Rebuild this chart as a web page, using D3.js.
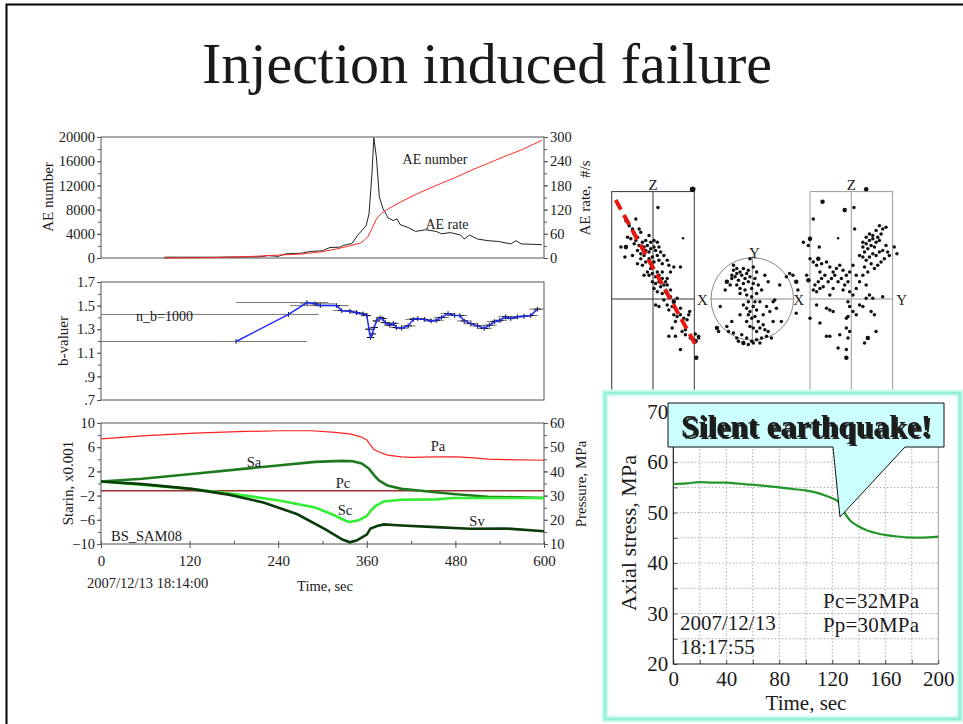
<!DOCTYPE html>
<html><head><meta charset="utf-8">
<script src="https://cdn.jsdelivr.net/npm/d3@7"></script>
<style>
html,body{margin:0;padding:0;background:#fff;}
svg{display:block;}
text{font-family:"Liberation Serif","Times New Roman",serif;fill:#1a1a1a;}
</style></head><body>
<svg id="chart" width="963" height="724"></svg>
<script>
// ---------- time-series data (time in seconds from 2007/12/13 18:14:00) ----------
const timeTicks = [0, 120, 240, 360, 480, 600];
const aeNumberTicks = [0, 4000, 8000, 12000, 16000, 20000];
const aeRateTicks = [0, 60, 120, 180, 240, 300];
const bTicks = [0.7, 0.9, 1.1, 1.3, 1.5, 1.7];
const bTickLabels = [".7", ".9", "1.1", "1.3", "1.5", "1.7"];
const strainTicks = [-10, -6, -2, 2, 6, 10];
const pressureTicks = [10, 20, 30, 40, 50, 60];

// cumulative AE number [t, count]
const aeNumber = [[85,0],[150,60],[207,276],[244,497],[272,663],[300,1050],[319,1492],[338,2044],[352,2486],
  [361,3425],[368,5083],[373,6464],[380,7403],[389,8122],[408,9392],[431,10773],[454,11989],[478,13204],
  [501,14475],[525,15691],[548,16851],[571,17956],[597,19448]];
// AE rate [t, events/s]
const aeRate = [[86,2],[151,2],[216,3],[226,6],[240,4],[249,10],[272,12],[282,16],[300,18],[310,26],[324,27],
  [328,31],[340,36],[347,55],[359,80],[363,109],[367,209],[369.5,298],[373,250],[377,151],[382,122],[389,99],
  [396,93],[401,97],[405,83],[417,75],[426,66],[440,70],[454,66],[461,60],[473,63],[487,57],[492,47],[499,57],
  [510,47],[524,43],[538,41],[555,35],[562,43],[569,35],[597,33]];

// b-value estimates: [t, b, window start, window end]
const bValues = [[183,1.196,0,279],[254,1.425,0,295],[279,1.526,183,308],[290,1.515,270,318],[297,1.50,256,335],
  [319,1.50,300,335],[326,1.458,314,340],[337,1.452,326,348],[346,1.44,336,355],[355,1.43,346,362],
  [360,1.416,352,366],[363,1.30,358,368],[365,1.23,361,369],[367.5,1.26,363,371],[370,1.314,366,374],
  [373,1.37,368,378],[378,1.397,372,384],[381,1.39,375,388],[385,1.356,378,392],[391,1.334,383,398],
  [396,1.35,389,404],[400,1.314,392,408],[407,1.309,398,416],[416,1.328,406,426],[423,1.383,412,432],
  [429,1.39,418,440],[438,1.383,428,448],[447,1.37,437,457],[454,1.375,444,464],[461,1.40,451,471],
  [470,1.433,460,480],[479,1.416,469,489],[486,1.416,476,496],[492,1.37,482,502],[501,1.347,491,511],
  [510,1.328,500,520],[519,1.306,509,529],[526,1.334,516,536],[533,1.364,523,543],[540,1.375,530,550],
  [548,1.405,538,558],[555,1.39,545,565],[564,1.405,554,574],[573,1.41,563,583],[582,1.416,572,592],
  [591,1.47,580,600]];

// axial pressure Pa [t, MPa]
const pa = [[0,53.4],[56,54.7],[126,55.8],[196,56.5],[243,56.8],[285,56.8],[313,56.2],[337,55.5],[351,54.4],
  [360,53.0],[365,50.9],[369.5,49.1],[376.5,48.0],[388,46.7],[407,46.0],[421,45.8],[454,46.0],[482,46.0],
  [505,45.6],[524,45.1],[547,44.9],[600,44.6]];
const pc = 32; // confining pressure, MPa
// strains [t, x0.001]
const sa = [[0,0.34],[56,0.78],[126,1.62],[196,2.46],[243,3.02],[290,3.58],[327,3.74],[341,3.69],[353,3.30],
  [363,2.46],[370,1.34],[376.5,0.5],[388,-0.34],[407,-0.89],[430,-1.17],[477,-1.73],[524,-2.18],[600,-2.40]];
const sc = [[0,0.34],[122,-0.89],[196,-2.0],[243,-2.85],[290,-3.97],[313,-5.08],[332,-6.2],[337,-6.37],
  [349,-6.09],[360,-5.36],[365,-4.53],[372,-3.69],[383,-2.96],[407,-2.68],[454,-2.63],[477,-2.40],[524,-2.40],[600,-2.40]];
const sv = [[0,0.34],[56,-0.1],[122,-0.89],[173,-1.84],[220,-3.13],[266,-5.08],[304,-7.6],[327,-9.27],
  [337,-9.72],[346,-9.44],[360,-8.44],[365,-7.43],[374,-7.04],[383,-6.76],[407,-6.93],[454,-7.21],
  [500,-7.49],[547,-7.43],[600,-7.88]];

// ---------- hypocentre projections (mm from sample centre; optional 3rd value = size factor) ----------
const eventsXZ = [[-16.4,47.4],[-14.4,44.4],[-12.4,42.4],[-11.4,39.4],[-9.4,37.4],[-7.4,40.4],[-8.4,42.4],[-10.4,35.4],
  [-13.4,36.4],[-15.4,37.4],[-16.4,31.4,1.3],[-11.4,33.4],[-8.4,32.4],[-6.4,34.4],[-5.4,31.4],[-3.4,32.4],[-4.4,29.4],
  [-2.4,28.4],[-1.4,30.4],[0.6,31.4],[1.6,29.4],[2.6,26.4],[-5.4,26.4],[-7.4,24.4],[-9.4,21.4],[-6.4,20.4],[-4.4,22.4],
  [-2.4,24.4],[-0.4,25.4],[0.6,22.4],[3.6,23.4],[5.6,21.4],[-1.4,18.4],[-3.4,16.4],[-5.4,14.4],[-2.4,14.4],[-0.4,15.4],
  [1.6,13.4],[2.6,16.4],[5.6,16.4],[-0.4,10.4],[1.6,9.4],[3.6,10.4],[4.6,7.4],[6.6,8.4],[8.6,12.4],[7.6,4.4],[10.6,5.4],
  [10.6,1.4],[12.6,-1.6,1.3],[11.6,-4.6],[9.6,-6.6],[12.6,-9.6],[14.6,-10.6],[16.6,-9.6],[18.6,-11.6],[20.6,-12.6],
  [21.6,-9.6],[13.6,-13.6],[11.6,-17.6],[17.6,-19.6],[19.6,-21.6],[22.6,-23.6],[25.6,-21.2],[27.6,-22.6],[25.6,-25.6,1.4],
  [27.6,-23.6],[16.6,-30.6],[26.2,-35.6,1.3],[12.6,19.4],[16.6,19.4],[18.2,36.8,0.7],[3,55.4],[1.6,-3.6],[3.6,-4.6],
  [8.6,-3.6],[6.6,-0.6],[14.6,0.4],[16.6,-5.6],[19.6,-18.6],[9.6,-22.6],[13.6,-22.6],[22.2,-7.6],[-10.4,48.4],
  [-19.4,31.4],[-17,25.4],[-12.4,26.4],[-9.4,29.4],[-7.4,27.4],[-4.4,35.4],[-2.4,38.4],[-1.4,34.4],[0.6,35.4],
  [2.6,34.4],[3.6,31.4],[4.6,28.4],[6.6,26.4],[8.6,23.4],[9.6,20.4],[10.6,16.4],[3.6,14.4],[5.6,12.4],[7.6,10.4],
  [0.6,6.4],[2.6,4.4],[5.6,3.4],[8.6,8.4],[24,66.4,1.6]];
const eventsXY = [[-11.4,20.4],[-9.4,18.4],[-7.4,16.4],[-12.4,14.4],[-10.4,13.4],[-8.4,11.4],[-6.4,14.4],[-4.4,12.4],
  [-3.4,15.4],[-5.4,18.4],[-2.4,17.4],[-15.4,10.4,1.3],[-13.4,8.4],[-16.4,5.4],[-9.4,8.4],[-7.4,6.4],[-5.4,9.4],
  [-2.4,10.4],[-0.4,6.4],[1.6,12.4],[2.6,16.4],[0.6,19.4],[3.6,8.4],[5.6,5.4],[-3.4,2.4],[-7.4,3.4],[-1.4,24.4],
  [7.6,14.4],[9.6,10.4],[2.6,3.4],[-5.4,-3.6],[-3.4,-5.6],[-1.4,-7.6],[0.6,-4.6],[2.6,-6.6],[-2.4,-9.6],[-0.4,-11.6],
  [1.6,-10.6],[3.6,-13.6],[-3.4,-13.6],[-1.4,-16.6],[0.6,-17.6],[2.6,-19.6],[4.6,-17.6],[6.6,-15.6],[7.6,-18.6],
  [9.6,-19.6],[11.6,-23.6],[8.6,-22.6],[5.6,-23.6],[2.6,-24.6],[-0.4,-25.6],[-3.4,-23.6],[-6.4,-21.6],[-9.4,-23.6],
  [-8.4,-25.6],[-5.4,-26.6,1.3],[-2.4,-27.6],[0.6,-26.6],[4.6,-26.6],[-11.4,-20.6],[-14.4,-19.6],[-21.4,-17.6,1.3],
  [-20.4,-19.6],[-19.4,-4.6],[12.6,-1.6],[13.6,-0.6],[10.6,-7.6],[14.6,-5.6],[16.6,8.4],[22.6,15.4],[20.6,13.4],
  [24.6,14.4],[26.6,10.4,1.3],[27.6,5.4],[26.6,-8.6],[6.6,-9.6],[-7.4,-9.6],[-12.4,-13.6],[-15.4,-16.6],[4.6,-1.6],
  [8.6,-4.6],[1.6,-1.6],[12.6,-13.6],[17.6,-13.6],[-11.4,17.4],[-9.4,15.4],[-12.4,12.4],[-1.4,13.4],[0.6,9.4],
  [-4.4,5.4],[-0.4,1.4],[-2.4,-1.6]];
const eventsYZ = [[7,34.4],[9,33.4],[11,35.4],[13,36.4],[12,32.4],[14,31.4],[10,30.4],[8,28.4],[15,34.4],[17,35.4],
  [16,37.4],[18,39.4],[19,42.4],[21,43.4],[17,44.4],[15,41.4],[13,38.4],[11,39.4],[9,37.4],[7,31.4],[5,26.4],[7,25.4],
  [9,23.4],[11,25.4],[13,27.4],[15,26.4],[17,28.4],[19,29.4],[21,32.4],[22,28.4],[23,26.4],[20,24.4],[18,22.4],
  [16,20.4],[14,18.4],[12,21.4],[10,16.4],[8,19.4],[26,31.4],[27.6,27.4],[2,42.4],[1.6,55.4],[-4,53.8,1.3],[-8,36.8,0.7],
  [-23,48.4],[-17.4,58.8,1.3],[-25,24.4],[-23,22.4],[-21,20.4],[-20,24.4,1.3],[-18,21.4],[-15,22.4],[-13,19.4],
  [-11,16.4],[-9,18.4],[-7,20.4],[-5,17.4],[-3,14.4],[-1,16.4],[1,20.4],[3,14.4],[-2,10.4],[-4,8.4],[-6,12.4],
  [-8,10.4],[-10,14.4],[-12,12.4],[-14,10.4],[-16,14.4],[-18,12.4],[-20,10.4],[-22,8.4],[-23,5.4],[-21,4.4],
  [-19,6.4],[-17,7.4],[-11,6.4],[-5,5.4],[-1,4.4],[-13,2.4],[1,2.4],[3,6.4],[5,10.4],[7,14.4],[9,8.4],[11,2.4],
  [-19,16.4],[-26,11.4,1.3],[-27,14.4],[-29,34.4],[-25,36.4,1.3],[-26,32.4],[-19.4,31.4],[-21,-3.6],[-15,-5.6],
  [-13,-6.6],[-11,-7.6],[-2,-1.6],[-1,-4.6],[-2,-10.6],[-3,-11.6],[1,-7.6],[5,-3.6],[7,-4.6],[9,0.4],[13,0.4],
  [19,1.4],[12,-7.6],[14,-9.6],[-3,-17.6],[-1,-19.6],[-2,-23.6],[-7,-21.6],[-19,-14.6],[-15,-22.6],[-13,-22.6],
  [-25,-11.6],[-8,-29.6],[-3,-30.6],[-3,-35.6,1.3],[10,-23.6,1.3],[8,-26.6],[15,-19.6],[3,-9.6],[9,66.4,1.3]];
const faultTrace = [[-22.6, 59.9], [26.9, -29.8]];

// ---------- axial stress of the silent event [t, MPa], 2007/12/13 18:17:55 ----------
const insetTimeTicks = [0, 40, 80, 120, 160, 200];
const insetStressTicks = [20, 30, 40, 50, 60, 70];
const axialStress = [[0,55.67],[10,55.8],[20,56.06],[30,55.93],[40,55.93],[50,55.73],[60,55.53],[70,55.27],
  [80,55.0],[90,54.68],[100.6,54.35],[108,53.95],[115.7,53.3],[120.8,52.76],[124.5,52.17],[127,51.3],
  [129.6,49.85],[133.3,48.5],[138.4,47.5],[146,46.5],[156,45.76],[166,45.36],[176,45.1],[186,45.03],[200,45.23]];

// ====================================================================
const FONT = '"Liberation Serif","Times New Roman",serif';
const svg = d3.select("#chart");

const defs = svg.append("defs");
const shadow = defs.append("filter").attr("id", "textShadow").attr("x", "-5%").attr("y", "-20%")
  .attr("width", "115%").attr("height", "150%");
shadow.append("feDropShadow").attr("dx", 2).attr("dy", 2).attr("stdDeviation", 0.4)
  .attr("flood-color", "#222").attr("flood-opacity", 1);

// slide border and title
svg.append("path").attr("d", "M6.5,724V4.5H963").attr("fill", "none").attr("stroke", "#000").attr("stroke-width", 2);
svg.append("text").attr("x", 487).attr("y", 83).attr("text-anchor", "middle")
  .attr("font-size", 58).attr("fill", "#000").text("Injection induced failure");

const L = 101, R = 544;
const x = d3.scaleLinear().domain([0, 600]).range([L, R]);

function styleAxis(g, size) {
  g.select(".domain").remove();
  g.selectAll(".tick line").attr("stroke", "#555");
  g.selectAll(".tick text").attr("font-family", FONT).attr("font-size", size).attr("fill", "#222");
}
function addAxis(axisFn, scale, tx, ty, major, minor, fmt, size, len, minorLen) {
  if (minor) {
    const gm = svg.append("g").attr("transform", `translate(${tx},${ty})`)
      .call(axisFn(scale).tickValues(minor).tickSize(minorLen).tickFormat(""));
    styleAxis(gm, size);
  }
  const g = svg.append("g").attr("transform", `translate(${tx},${ty})`)
    .call(axisFn(scale).tickValues(major).tickSize(len).tickPadding(2).tickFormat(fmt));
  styleAxis(g, size);
  return g;
}
function frame(top, bottom) {
  svg.append("rect").attr("x", L).attr("y", top).attr("width", R - L).attr("height", bottom - top)
    .attr("fill", "none").attr("stroke", "#555").attr("stroke-width", 1);
}
function vtext(cx, cy, str, size) {
  svg.append("text").attr("transform", `translate(${cx},${cy}) rotate(-90)`)
    .attr("text-anchor", "middle").attr("font-size", size).style("white-space", "pre").text(str);
}
function label(px, py, str, size, anchor) {
  return svg.append("text").attr("x", px).attr("y", py).attr("text-anchor", anchor || "middle")
    .attr("font-size", size).text(str);
}
const between = (arr, step) => d3.range(arr[0], arr[arr.length - 1] + step / 2, step);

// ---------- panel 1: AE number and AE rate ----------
const T1 = 137, B1 = 258;
const yAE = d3.scaleLinear().domain([0, 20000]).range([B1, T1]);
const yRate = d3.scaleLinear().domain([0, 300]).range([B1, T1]);
frame(T1, B1);
addAxis(d3.axisLeft, yAE, L, 0, aeNumberTicks, between(aeNumberTicks, 2000), d3.format("d"), 14.5, 4, 3);
addAxis(d3.axisRight, yRate, R, 0, aeRateTicks, between(aeRateTicks, 30), d3.format("d"), 14.5, 4, 3);
vtext(53, 197, "AE number", 15);
vtext(590, 198, "AE rate,  #/s", 15);
const lineAE = d3.line().x(d => x(d[0])).y(d => yAE(d[1]));
const lineRate = d3.line().x(d => x(d[0])).y(d => yRate(d[1]));
svg.append("path").attr("d", lineRate(aeRate)).attr("fill", "none").attr("stroke", "#222").attr("stroke-width", 1);
svg.append("path").attr("d", lineAE(aeNumber)).attr("fill", "none").attr("stroke", "#ff2a2a").attr("stroke-width", 1);
label(435, 164, "AE number", 14);
label(447, 229, "AE rate", 14);

// ---------- panel 2: b-value ----------
const T2 = 282, B2 = 400;
const yB = d3.scaleLinear().domain([0.7, 1.7]).range([B2, T2]);
frame(T2, B2);
addAxis(d3.axisLeft, yB, L, 0, bTicks, between(bTicks, 0.1), (d, i) => bTickLabels[i], 14.5, 4, 3);
vtext(68, 341, "b-valuer", 15);
const gb = svg.append("g");
gb.selectAll("line.win").data(bValues).join("line")
  .attr("x1", d => x(d[2])).attr("x2", d => x(d[3]))
  .attr("y1", d => yB(d[1])).attr("y2", d => yB(d[1]))
  .attr("stroke", "#777").attr("stroke-width", 1);
gb.selectAll("line.err").data(bValues).join("line")
  .attr("x1", d => x(d[0])).attr("x2", d => x(d[0]))
  .attr("y1", d => yB(d[1] + 0.02)).attr("y2", d => yB(d[1] - 0.02))
  .attr("stroke", "#111").attr("stroke-width", 1);
gb.selectAll("line.mid").data(bValues.slice(3)).join("line")
  .attr("x1", d => x(d[0] - 5)).attr("x2", d => x(d[0] + 5))
  .attr("y1", d => yB(d[1])).attr("y2", d => yB(d[1]))
  .attr("stroke", "#111").attr("stroke-width", 1);
const lineB = d3.line().x(d => x(d[0])).y(d => yB(d[1]));
gb.append("path").attr("d", lineB(bValues)).attr("fill", "none").attr("stroke", "#1f2bff").attr("stroke-width", 1.5);
label(136, 321, "n_b=1000", 14, "start");

// ---------- panel 3: strains and pressures ----------
const T3 = 423, B3 = 544;
const yS = d3.scaleLinear().domain([-10, 10]).range([B3, T3]);
const yP = d3.scaleLinear().domain([10, 60]).range([B3, T3]);
frame(T3, B3);
addAxis(d3.axisLeft, yS, L, 0, strainTicks, between(strainTicks, 2), d3.format("d"), 14.5, 4, 3);
addAxis(d3.axisRight, yP, R, 0, pressureTicks, between(pressureTicks, 5), d3.format("d"), 14.5, 4, 3);
{
  const gm = svg.append("g").attr("transform", `translate(0,${B3})`)
    .call(d3.axisBottom(x).tickValues(between(timeTicks, 60)).tickSize(-3).tickFormat(""));
  styleAxis(gm, 15);
  const g = svg.append("g").attr("transform", `translate(0,${B3})`)
    .call(d3.axisBottom(x).tickValues(timeTicks).tickSize(4).tickPadding(7).tickFormat(d3.format("d")));
  styleAxis(g, 15);
}
vtext(73, 483, "Starin, x0.001", 15);
vtext(586, 484, "Pressure, MPa", 15);
label(87, 588, "2007/12/13 18:14:00", 14.5, "start");
label(325, 591, "Time, sec", 14.5);

const lineS = d3.line().x(d => x(d[0])).y(d => yS(d[1]));
const lineP = d3.line().x(d => x(d[0])).y(d => yP(d[1]));
svg.append("line").attr("x1", x(0)).attr("x2", x(600)).attr("y1", yP(pc)).attr("y2", yP(pc))
  .attr("stroke", "#9a2f2f").attr("stroke-width", 1.6);
svg.append("path").attr("d", lineP(pa)).attr("fill", "none").attr("stroke", "#ff2020").attr("stroke-width", 1.2);
svg.append("path").attr("d", lineS(sa)).attr("fill", "none").attr("stroke", "#1f7a1f").attr("stroke-width", 2.6);
svg.append("path").attr("d", lineS(sc)).attr("fill", "none").attr("stroke", "#33ee33").attr("stroke-width", 2.6);
svg.append("path").attr("d", lineS(sv)).attr("fill", "none").attr("stroke", "#0b3a0b").attr("stroke-width", 2.6);
label(438, 451, "Pa", 14.5);
label(254, 467, "Sa", 14.5);
label(343, 488, "Pc", 14.5);
label(345, 515, "Sc", 14.5);
label(477, 526, "Sv", 14.5);
label(111, 541, "BS_SAM08", 14.5, "start");

// ---------- hypocentre projections ----------
const zScale = d3.scaleLinear().domain([-65, 65]).range([406.4, 191.6]);
const xzX = d3.scaleLinear().domain([-25, 25]).range([611.7, 694.3]);
const xyX = d3.scaleLinear().domain([-25, 25]).range([711, 793.6]);
const xyY = d3.scaleLinear().domain([-25, 25]).range([340.3, 257.7]);
const yzY = d3.scaleLinear().domain([-25, 25]).range([810, 892.6]);

function sampleBox(sx, color) {
  const g = svg.append("g").attr("fill", "none").attr("stroke", color).attr("stroke-width", 1);
  g.append("rect").attr("x", sx(-25)).attr("y", zScale(65)).attr("width", sx(25) - sx(-25)).attr("height", zScale(-65) - zScale(65));
  g.append("line").attr("x1", sx(0)).attr("x2", sx(0)).attr("y1", zScale(65)).attr("y2", zScale(-65));
  g.append("line").attr("x1", sx(-25)).attr("x2", sx(25)).attr("y1", zScale(0)).attr("y2", zScale(0));
}
sampleBox(xzX, "#333");
sampleBox(yzY, "#999");
{
  const g = svg.append("g").attr("fill", "none").attr("stroke", "#888").attr("stroke-width", 1);
  g.append("circle").attr("cx", xyX(0)).attr("cy", xyY(0)).attr("r", xyX(25) - xyX(0));
  g.append("line").attr("x1", xyX(-25)).attr("x2", xyX(25)).attr("y1", xyY(0)).attr("y2", xyY(0));
  g.append("line").attr("x1", xyX(0)).attr("x2", xyX(0)).attr("y1", xyY(26)).attr("y2", xyY(-26));
}
function dots(data, sx, sy) {
  svg.append("g").selectAll("circle").data(data).join("circle")
    .attr("cx", d => sx(d[0])).attr("cy", d => sy(d[1]))
    .attr("r", d => 1.75 * (d[2] || 1)).attr("fill", "#111");
}
dots(eventsXZ, xzX, zScale);
dots(eventsXY, xyX, xyY);
dots(eventsYZ, yzY, zScale);
svg.append("line")
  .attr("x1", xzX(faultTrace[0][0])).attr("y1", zScale(faultTrace[0][1]))
  .attr("x2", xzX(faultTrace[1][0])).attr("y2", zScale(faultTrace[1][1]))
  .attr("stroke", "#e8140f").attr("stroke-width", 4).attr("stroke-dasharray", "11,6");
label(xzX(0), 189.5, "Z", 15).attr("fill", "#333");
label(xzX(25) + 8, 305, "X", 15).attr("fill", "#333");
label(xyX(0) + 2, 258, "Y", 15).attr("fill", "#666");
label(xyX(25) + 5, 305, "X", 15).attr("fill", "#333");
label(yzY(0), 189.5, "Z", 15).attr("fill", "#333");
label(yzY(25) + 9, 305, "Y", 15).attr("fill", "#333");

// ---------- inset: axial stress during the silent event ----------
svg.append("rect").attr("x", 605).attr("y", 393).attr("width", 355).attr("height", 326)
  .attr("fill", "#fff").attr("stroke", "#d6fbf1").attr("stroke-width", 7);
svg.append("rect").attr("x", 605).attr("y", 393).attr("width", 355).attr("height", 326)
  .attr("fill", "none").attr("stroke", "#93efd8").attr("stroke-width", 3);

const ix = d3.scaleLinear().domain([0, 200]).range([673.3, 938.3]);
const iy = d3.scaleLinear().domain([20, 70]).range([664, 411.7]);
const grid = svg.append("g").attr("stroke", "#aaa").attr("stroke-width", 1).attr("stroke-dasharray", "1.5,2");
grid.selectAll("line.v").data(d3.range(20, 200, 20)).join("line")
  .attr("x1", d => ix(d)).attr("x2", d => ix(d)).attr("y1", iy(20)).attr("y2", iy(70));
grid.selectAll("line.h").data(d3.range(25, 70, 5)).join("line")
  .attr("x1", ix(0)).attr("x2", ix(200)).attr("y1", d => iy(d)).attr("y2", d => iy(d));
svg.append("path").attr("d", `M${ix(0)},${iy(70)}H${ix(200)}V${iy(20)}`).attr("fill", "none").attr("stroke", "#999").attr("stroke-width", 1);
{
  const gm = svg.append("g").attr("transform", `translate(${ix(0)},0)`)
    .call(d3.axisLeft(iy).tickValues(d3.range(20, 71, 5)).tickSize(-4).tickFormat(""));
  styleAxis(gm, 21);
  const g = svg.append("g").attr("transform", `translate(${ix(0)},0)`)
    .call(d3.axisLeft(iy).tickValues(insetStressTicks).tickSize(0).tickPadding(5).tickFormat(d3.format("d")));
  styleAxis(g, 21);
  const gbm = svg.append("g").attr("transform", `translate(0,${iy(20)})`)
    .call(d3.axisBottom(ix).tickValues(d3.range(0, 201, 20)).tickSize(-4).tickFormat(""));
  styleAxis(gbm, 21);
  const gbx = svg.append("g").attr("transform", `translate(0,${iy(20)})`)
    .call(d3.axisBottom(ix).tickValues(insetTimeTicks).tickSize(0).tickPadding(7).tickFormat(d3.format("d")));
  styleAxis(gbx, 21);
}
svg.append("path").attr("d", `M${ix(0)},${iy(70) - 8}V${iy(20)}H${ix(200)}`).attr("fill", "none").attr("stroke", "#222").attr("stroke-width", 1.2);
const lineStress = d3.line().x(d => ix(d[0])).y(d => iy(d[1])).curve(d3.curveMonotoneX);
svg.append("path").attr("d", lineStress(axialStress)).attr("fill", "none").attr("stroke", "#22962a").attr("stroke-width", 2.2);

svg.append("text").attr("transform", "translate(636,533) rotate(-90)").attr("text-anchor", "middle")
  .attr("font-size", 22).attr("fill", "#222").text("Axial stress, MPa");
label(806, 710, "Time, sec", 21).attr("fill", "#222");
label(680, 630, "2007/12/13", 21, "start").attr("fill", "#222");
label(680, 654, "18:17:55", 21, "start").attr("fill", "#222");
label(823, 608, "Pc=32MPa", 21, "start").attr("fill", "#222").attr("textLength", 96);
label(823, 632, "Pp=30MPa", 21, "start").attr("fill", "#222").attr("textLength", 96);

// callout
svg.append("path").attr("d", "M668,403H944V447H905L840,517L833,447H668Z")
  .attr("fill", "#ccffff").attr("stroke", "#111").attr("stroke-width", 1);
svg.append("text").attr("x", 806).attr("y", 437).attr("text-anchor", "middle")
  .attr("font-size", 31).attr("font-weight", "bold").attr("fill", "#dd0000").attr("textLength", 250)
  .attr("filter", "url(#textShadow)")
  .text("Silent earthquake!");
</script>
</body></html>
